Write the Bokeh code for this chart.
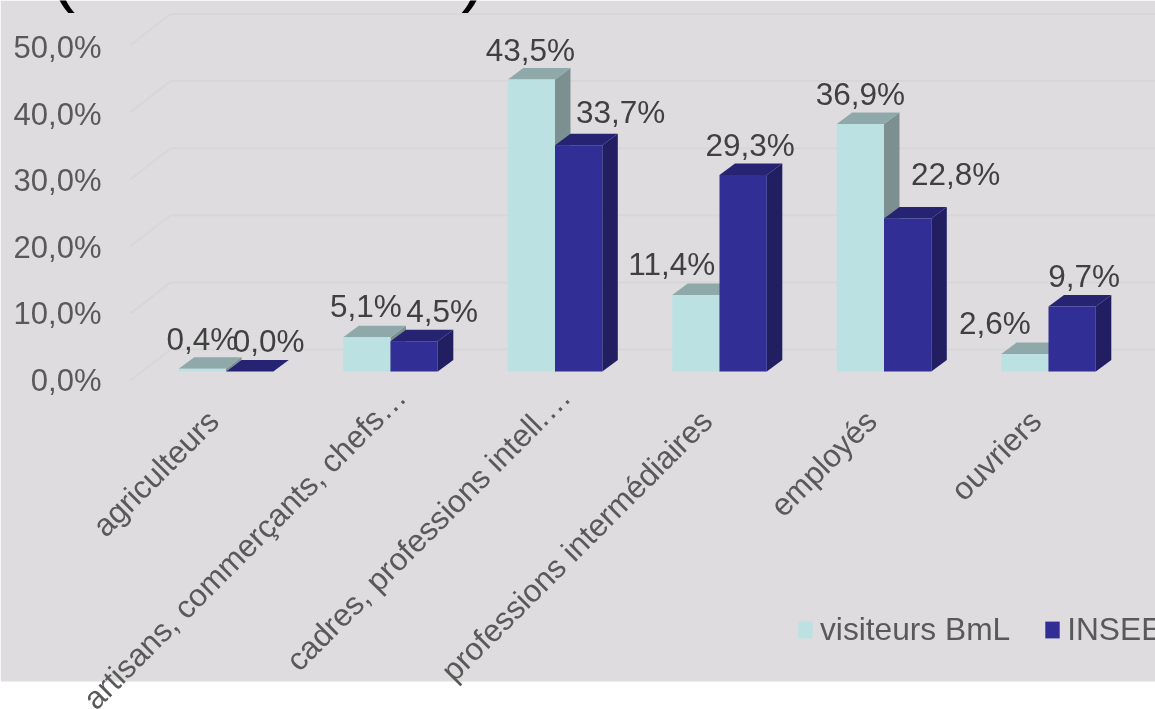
from bokeh.plotting import figure
from bokeh.models import Range1d, LinearAxis, FixedTicker, Legend, LegendItem, ColumnDataSource
from bokeh.core.properties import value
from bokeh.embed import file_html
from bokeh.resources import INLINE

categories = ["agriculteurs", "artisans, commerçants, chefs…", "cadres, professions intell.…",
              "professions intermédiaires", "employés", "ouvriers"]
visiteurs = [0.4, 5.1, 43.5, 11.4, 36.9, 2.6]
insee = [0.0, 4.5, 33.7, 29.3, 22.8, 9.7]
y_ticks = [0, 10, 20, 30, 40, 50]
y_tick_labels = ["0,0%", "10,0%", "20,0%", "30,0%", "40,0%", "50,0%"]
series_names = ["visiteurs BmL", "INSEE"]
title_text = "(15 ans ou +)"

W, H, PANEL_H = 1155, 709, 681
X0, X_STEP = 225.5, 164.5
Y0, Y_SCALE = 371.0, 6.71
BAR_W = 47.3 / X_STEP
DX, DY = 15.5 / X_STEP, 11.5 / Y_SCALE
BG = "#DEDCDE"
FONT = "Liberation Sans"


def xp(px):
    return (px - X0) / X_STEP


def yp(py):
    return (Y0 - py) / Y_SCALE


p = figure(width=W, height=H, output_backend="svg", toolbar_location=None,
           x_range=Range1d(xp(0), xp(W)), y_range=Range1d(yp(H), yp(0)),
           min_border=0, min_border_left=0, min_border_right=0, min_border_top=0, min_border_bottom=0,
           outline_line_color=None, background_fill_color="white", border_fill_color="white",
           x_axis_type=None, y_axis_type=None)
p.styles = {"position": "fixed", "left": "0px", "top": "0px"}
p.xgrid.visible = False
p.ygrid.visible = False
p.extra_y_ranges = {"front": Range1d((380 - H) / 6.66, 380 / 6.66)}
# tick labels are anchored a little off the group centres
p.extra_x_ranges = {
    "labels": Range1d(xp(13), xp(W + 13)),
    "long_labels": Range1d(xp(-10), xp(W - 10)),
}

# grey panel
p.quad(left=[xp(0)], right=[xp(W)], bottom=[yp(PANEL_H)], top=[yp(0)], fill_color=BG, line_color=None)

# gridlines on the back wall and the left wall
back_y = [v + (Y0 - 349) / Y_SCALE for v in y_ticks]
front_y = [v + (Y0 - 380) / Y_SCALE for v in y_ticks]
p.segment(x0=[xp(170)] * 6, x1=[xp(W)] * 6, y0=back_y, y1=back_y, line_color="#D8D7D8", line_width=2)
p.segment(x0=[xp(130)] * 6, x1=[xp(170)] * 6, y0=front_y, y1=back_y, line_color="#D8D7D8", line_width=2)

series = [
    (visiteurs, -BAR_W, "#BCE1E3", "#8FA9AB", "#7C9091"),
    (insee, 0.0, "#312E96", "#262472", "#211F62"),
]
legend_items = []
for name, (vals, shift, front, top, side) in zip(series_names, series):
    lefts = [i + shift for i in range(len(vals))]
    rights = [l + BAR_W for l in lefts]
    p.patches(xs=[[r, r + DX, r + DX, r] for r in rights],
              ys=[[0, DY, v + DY, v] for v in vals], fill_color=side, line_color=None)
    p.patches(xs=[[l, l + DX, r + DX, r] for l, r in zip(lefts, rights)],
              ys=[[v, v + DY, v + DY, v] for v in vals], fill_color=top, line_color=None)
    q = p.quad(left=lefts, right=rights, bottom=[0] * len(vals), top=vals, fill_color=front, line_color=None)
    legend_items.append(LegendItem(label=name, renderers=[q]))

# data labels
label_x_off = [[0, -1, -1, -24, 0, -30], [19, 28, 42, 7, 48, 12]]
label_y_off = [[-30, -31, -30, -31, -30, -31], [-31, -30, -33, -30, -45, -30]]
for vals, shift, xo, yo in zip((visiteurs, insee), (-BAR_W / 2, BAR_W / 2), label_x_off, label_y_off):
    src = ColumnDataSource(dict(x=[i + shift for i in range(6)], y=vals,
                                t=[f"{v:.1f}%".replace(".", ",") for v in vals], xo=xo, yo=yo))
    p.text(x="x", y="y", text="t", x_offset="xo", y_offset="yo", source=src, text_align="center",
           text_baseline="middle", text_font=value(FONT), text_font_size="31.5px", text_color="#404040")

# title, cut by the top of the page
p.text(x=[xp(50)], y=[yp(-28)], text=[title_text], text_align="left", text_baseline="alphabetic",
       text_font=value(FONT), text_font_size="73.5px", text_color="#000000")


def label_axis(range_name, ticks, standoff):
    ax = LinearAxis(fixed_location=0, x_range_name=range_name, ticker=FixedTicker(ticks=ticks),
                    major_label_overrides={i: categories[i] for i in ticks},
                    major_label_orientation=0.785398, major_label_standoff=standoff,
                    major_label_text_font=FONT, major_label_text_font_size="31.5px",
                    major_label_text_color="#595959", axis_line_color=None,
                    major_tick_line_color=None, minor_tick_line_color=None)
    p.add_layout(ax, "below")


label_axis("labels", [0, 3, 4, 5], 38)
label_axis("long_labels", [1, 2], 14)

yaxis = LinearAxis(y_range_name="front", fixed_location=xp(110), ticker=FixedTicker(ticks=y_ticks),
                   major_label_overrides={v: s for v, s in zip(y_ticks, y_tick_labels)},
                   major_label_standoff=3, major_label_text_font=FONT, major_label_text_font_size="31px",
                   major_label_text_color="#595959", axis_line_color=None,
                   major_tick_line_color=None, minor_tick_line_color=None)
p.add_layout(yaxis, "left")

legend = Legend(items=legend_items, orientation="horizontal", location=(796, 61), margin=0, padding=0,
                spacing=33, glyph_width=18, glyph_height=21, label_standoff=6,
                label_text_font=FONT, label_text_font_size="31.7px", label_text_color="#595959",
                background_fill_alpha=0, border_line_color=None)
p.add_layout(legend, "center")

open("out.html", "w").write(file_html(p, INLINE))
